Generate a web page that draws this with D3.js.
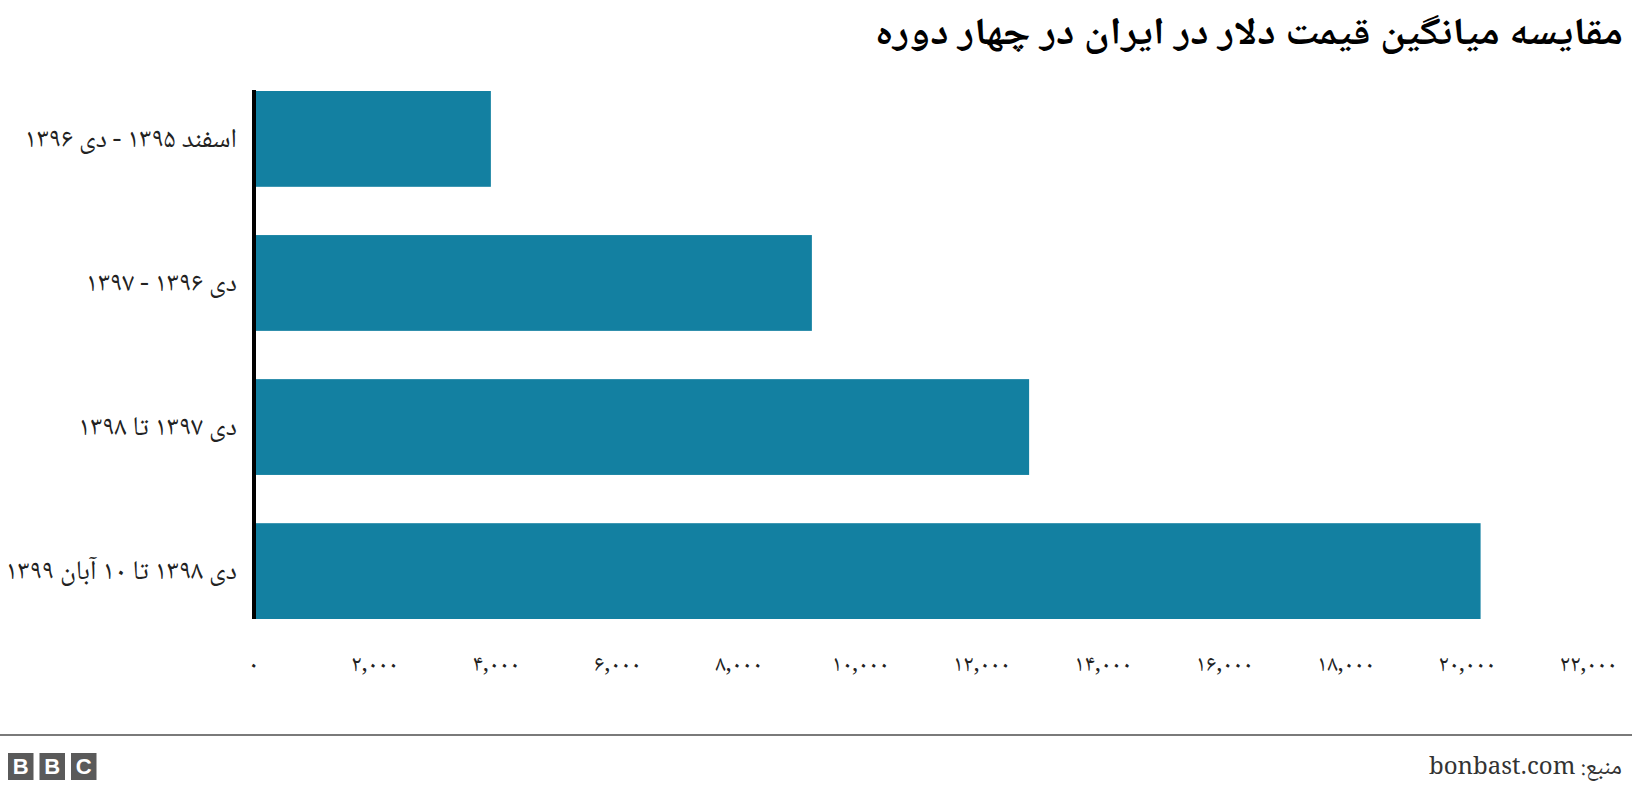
<!DOCTYPE html>
<html>
<head>
<meta charset="utf-8">
<script src="https://cdn.jsdelivr.net/npm/d3@7"></script>
<style>
  html, body { margin: 0; padding: 0; background: #ffffff; }
  svg { display: block; }
  .fa { font-family: "Noto Naskh Arabic", "Noto Sans Arabic", "DejaVu Sans", sans-serif; }
</style>
</head>
<body>
<script>
// ---- data ----
const categories = [
  "اسفند ۱۳۹۵ - دی ۱۳۹۶",
  "دی ۱۳۹۶ - ۱۳۹۷",
  "دی ۱۳۹۷ تا ۱۳۹۸",
  "دی ۱۳۹۸ تا ۱۰ آبان ۱۳۹۹"
];
const values = [3920, 9210, 12790, 20230];
const tickValues = [0, 2000, 4000, 6000, 8000, 10000, 12000, 14000, 16000, 18000, 20000, 22000];
const tickLabels = ["۰", "۲,۰۰۰", "۴,۰۰۰", "۶,۰۰۰", "۸,۰۰۰", "۱۰,۰۰۰", "۱۲,۰۰۰", "۱۴,۰۰۰", "۱۶,۰۰۰", "۱۸,۰۰۰", "۲۰,۰۰۰", "۲۲,۰۰۰"];
const titleText = "مقایسه میانگین قیمت دلار در ایران در چهار دوره";
const sourceText = "منبع: bonbast.com";

// ---- layout ----
const W = 1632, H = 792;
const svg = d3.select("body").append("svg").attr("width", W).attr("height", H);

const x = d3.scaleLinear().domain([0, 22000]).range([253, 1588]);
const y = d3.scaleBand().domain(categories).range([91, 619]).paddingInner(0.335).paddingOuter(0);

// title
svg.append("text").attr("class", "fa")
  .attr("x", 1623).attr("y", 44)
  .attr("text-anchor", "end")
  .attr("font-size", 38).attr("font-weight", "bold").attr("fill", "#000")
  .attr("textLength", 748).attr("lengthAdjust", "spacingAndGlyphs")
  .text(titleText);

// bars
svg.append("g").selectAll("rect").data(values).join("rect")
  .attr("x", x(0))
  .attr("y", (d, i) => y(categories[i]))
  .attr("width", d => x(d) - x(0))
  .attr("height", y.bandwidth())
  .attr("fill", "#1380A1");

// y axis line
svg.append("line")
  .attr("x1", 254).attr("x2", 254)
  .attr("y1", 90).attr("y2", 619)
  .attr("stroke", "#000").attr("stroke-width", 4);

// y labels
svg.append("g").selectAll("text").data(categories).join("text")
  .attr("class", "fa")
  .attr("x", 237)
  .attr("y", d => y(d) + y.bandwidth() / 2)
  .attr("dy", "0.3em")
  .attr("text-anchor", "end")
  .attr("font-size", 27).attr("fill", "#222")
  .text(d => d);

// x axis (labels only)
const xAxis = d3.axisBottom(x)
  .tickValues(tickValues)
  .tickFormat((d, i) => tickLabels[i])
  .tickSize(0).tickPadding(0);
const gx = svg.append("g").attr("transform", "translate(0,655)").call(xAxis);
gx.select(".domain").remove();
gx.selectAll("text")
  .attr("class", "fa")
  .attr("font-size", 23).attr("fill", "#222");

// footer rule
svg.append("line")
  .attr("x1", 0).attr("x2", W)
  .attr("y1", 735).attr("y2", 735)
  .attr("stroke", "#7a7a7a").attr("stroke-width", 2);

// BBC logo
const logo = svg.append("g");
["B", "B", "C"].forEach((ch, i) => {
  const bx = 8 + i * 31.5;
  logo.append("rect").attr("x", bx).attr("y", 753).attr("width", 25.5).attr("height", 27).attr("fill", "#5a5a5a");
  logo.append("text").attr("x", bx + 12.75).attr("y", 774)
    .attr("text-anchor", "middle").attr("font-family", "Liberation Sans, Arial, sans-serif")
    .attr("font-weight", "bold").attr("font-size", 22).attr("fill", "#fff").text(ch);
});

// source
svg.append("text")
  .attr("x", 1622).attr("y", 774)
  .attr("text-anchor", "end")
  .attr("font-family", "\"Noto Naskh Arabic\", \"DejaVu Serif\", \"Liberation Serif\", serif")
  .attr("font-size", 24).attr("fill", "#333")
  .text("\u202B" + sourceText + "\u202C");
</script>
</body>
</html>
